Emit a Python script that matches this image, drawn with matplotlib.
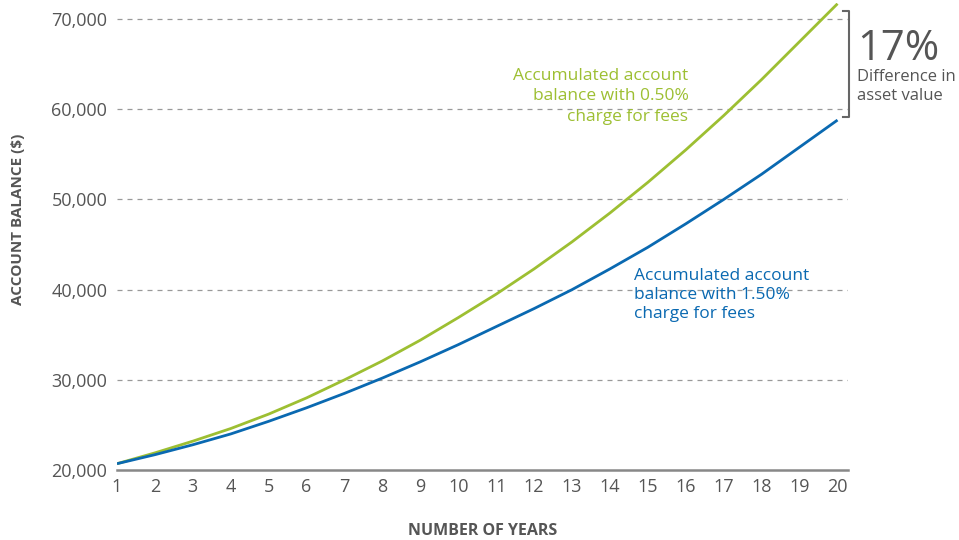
import matplotlib

matplotlib.use("Agg")
import matplotlib.pyplot as plt

plt.rcParams["font.family"] = ["Open Sans", "DejaVu Sans"]

# values
years = list(range(1, 21))
balance_low_fee = [20700, 21900, 23200, 24600, 26200, 28000, 30000, 32100, 34400, 36900,
                   39500, 42300, 45300, 48500, 51900, 55500, 59300, 63300, 67500, 71700]
balance_high_fee = [20700, 21700, 22800, 24000, 25400, 26900, 28500, 30200, 32000, 33900,
                    35900, 37900, 40000, 42300, 44700, 47300, 50000, 52800, 55800, 58800]
y_ticks = [20000, 30000, 40000, 50000, 60000, 70000]

GREEN = "#9dbf32"
BLUE = "#0a69b1"
GREY = "#555555"

fig = plt.figure(figsize=(9.59, 5.4), dpi=100)
ax = fig.add_axes([0.122, 0.1296, 0.762, 0.8652])

ax.plot(years, balance_low_fee, color=GREEN, lw=2.0, solid_capstyle="butt")
ax.plot(years, balance_high_fee, color=BLUE, lw=2.0, solid_capstyle="butt")

ax.set_xlim(1, 20.27)
ax.set_ylim(20000, 71800)
ax.set_xticks(years)
ax.set_yticks(y_ticks)
ax.set_yticklabels([f"{v:,}" for v in y_ticks])
ax.tick_params(length=0, labelsize=13, colors=GREY)
ax.tick_params(axis="x", pad=6)
ax.tick_params(axis="y", pad=7)

for v in y_ticks[1:]:
    ax.axhline(v, color="#999999", lw=0.9, ls=(0, (4, 4)), zorder=0)

for s in ["top", "right", "left"]:
    ax.spines[s].set_visible(False)
ax.spines["bottom"].set_color("#888888")
ax.spines["bottom"].set_linewidth(1.8)

ax.set_ylabel("ACCOUNT BALANCE ($)", fontsize=11, fontweight="bold", color=GREY,
              va="center")
ax.yaxis.set_label_coords(-0.1354, 0.537)
ax.set_xlabel("NUMBER OF YEARS", fontsize=11.5, fontweight="bold", color=GREY,
              va="center")
ax.xaxis.set_label_coords(0.5, -0.131)

ax.text(16.07, 64600, "Accumulated account\nbalance with 0.50%\ncharge for fees",
        ha="right", va="top", color=GREEN, fontsize=12.5, linespacing=1.38)
ax.text(14.64, 42400, "Accumulated account\nbalance with 1.50%\ncharge for fees",
        ha="left", va="top", color=BLUE, fontsize=12.5, linespacing=1.25)

# bracket showing the gap between the two lines at year 20
bx = 0.885
fig.add_artist(plt.Line2D([bx - 0.006, bx, bx, bx - 0.006], [0.98, 0.98, 0.784, 0.784],
                          transform=fig.transFigure, color="#666666", lw=1.5))
fig.text(0.894, 0.889, "17%", fontsize=30, color=GREY, ha="left", va="baseline")
fig.text(0.894, 0.872, "Difference in\nasset value", fontsize=12, color=GREY,
         ha="left", va="top", linespacing=1.24)

fig.savefig("out.png", dpi=100)
